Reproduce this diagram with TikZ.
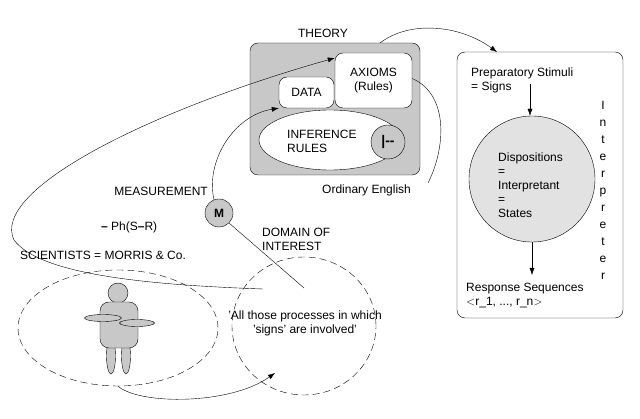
\documentclass[tikz,border=0pt]{standalone}
\usepackage{fontspec}
\setmainfont{Liberation Sans}
\usetikzlibrary{arrows.meta,shapes.geometric}
\definecolor{g1}{HTML}{C8C8C8}
\definecolor{g2}{HTML}{E2E2E2}
\begin{document}
\begin{tikzpicture}[x=1pt,y=-1pt,
  every node/.style={font=\fontsize{12}{14}\selectfont,inner sep=0pt},
  arr/.style={-{Latex[length=7pt,width=5pt]}},
  dsh/.style={dashed,dash pattern=on 7pt off 4pt},
  body/.style={draw,fill=g1}]
\useasboundingbox (0,0) rectangle (640,419);
% theory
\node[draw,fill=g1,rounded corners=8pt,minimum width=170pt,minimum height=132pt] (theory) at (335,109) {};
\node (theorylbl) at (323,33) {THEORY};
\node[draw,fill=white,rounded corners=8pt,minimum width=77pt,minimum height=55pt,align=center] (axioms) at (373.5,80.5) {AXIOMS\\(Rules)};
\node[draw,fill=white,rounded corners=8pt,minimum width=55pt,minimum height=31pt] (data) at (306.5,92.5) {DATA};
\node[draw,fill=white,ellipse,minimum width=142pt,minimum height=60pt] (infer) at (330,140) {};
\node[align=left,anchor=west] (inferlbl) at (287,141) {INFERENCE\\RULES};
\node[draw,fill=g1,circle,minimum size=34pt,font=\fontsize{14}{14}\selectfont] (turn) at (388,142) {\textbf{|-{}-}};
\node[anchor=west] (eng) at (322,190) {Ordinary English};
\coordinate (engend) at (428,183);
\draw (axioms.east) ++(0,-2) .. controls (450,95) and (445,150) .. (engend);
% right box
\node[draw,fill=white,rounded corners=8pt,minimum width=166pt,minimum height=266pt] (interp) at (540,185) {};
\node[align=left,anchor=west] (prep) at (471,80) {Preparatory Stimuli\\= Signs};
\node[draw,fill=g2,circle,minimum size=126pt] (disp) at (532,179) {};
\node[align=left,anchor=west] (displbl) at (498,185) {Dispositions\\=\\Interpretant\\=\\States};
\node[align=left,anchor=west] (resp) at (466,296) {Response Sequences\\$<$r\_1, ..., r\_n$>$};
\node[align=center,font=\fontsize{12}{17}\selectfont] (interlbl) at (603,190) {I\\n\\t\\e\\r\\p\\r\\e\\t\\e\\r};
\coordinate (p1) at (530,84);
\draw[arr] (p1) -- (disp.north -| p1);
\coordinate (p2) at (532,275);
\draw[arr] (disp.south) -- (p2);
\draw[arr] (380,43) .. controls (410,20) and (460,25) .. (497,52);
% measurement
\node[draw,fill=g1,circle,minimum size=28pt] (M) at (219,213) {\textbf{M}};
\node[anchor=east] (meas) at (208,191) {MEASUREMENT};
\node[anchor=west] (ph) at (101,227) {\textbf{--} Ph(S\textbf{--}R)};
\node[anchor=west] (sci) at (20,255) {SCIENTISTS = MORRIS \& Co.};
\node[anchor=west,align=left] (dom) at (262,239) {DOMAIN OF\\INTEREST};
\draw[arr] (M.north) ++(-5,1) .. controls (205,160) and (235,115) .. (data.south west);
\coordinate (mend) at (304,288);
\draw (M.south east) -- (mend);
% ellipses
\node[draw,dsh,ellipse,minimum width=200pt,minimum height=116pt] (sciell) at (118,328) {};
\node[draw,dsh,ellipse,minimum width=144pt,minimum height=138pt] (domell) at (304,326) {};
\node[align=center] (domtxt) at (305,323) {'All those processes in which\\'signs' are involved'};
% big curve
\coordinate (cstart) at (263,289);
\draw[arr] (cstart) .. controls (150,285) and (40,275) .. (14,240)
  .. controls (-10,190) and (150,110) .. (axioms.west |- 0,58);
% person
\node[body,circle,minimum size=20pt] (head) at (118,293) {};
\node[body,ellipse,minimum width=9pt,minimum height=36pt] (legl) at (111,356) {};
\node[body,ellipse,minimum width=9pt,minimum height=36pt] (legr) at (126,356) {};
\node[body,rounded corners=9pt,minimum width=38pt,minimum height=46pt] (torso) at (119,325) {};
\node[body,ellipse,minimum width=37pt,minimum height=7pt] (arml) at (103,318) {};
\node[body,ellipse,minimum width=35pt,minimum height=7pt] (armr) at (137,323) {};
\coordinate (bend) at (275,373);
\draw[arr] (sciell.south) .. controls (140,405) and (230,405) .. (bend);
\end{tikzpicture}
\end{document}
